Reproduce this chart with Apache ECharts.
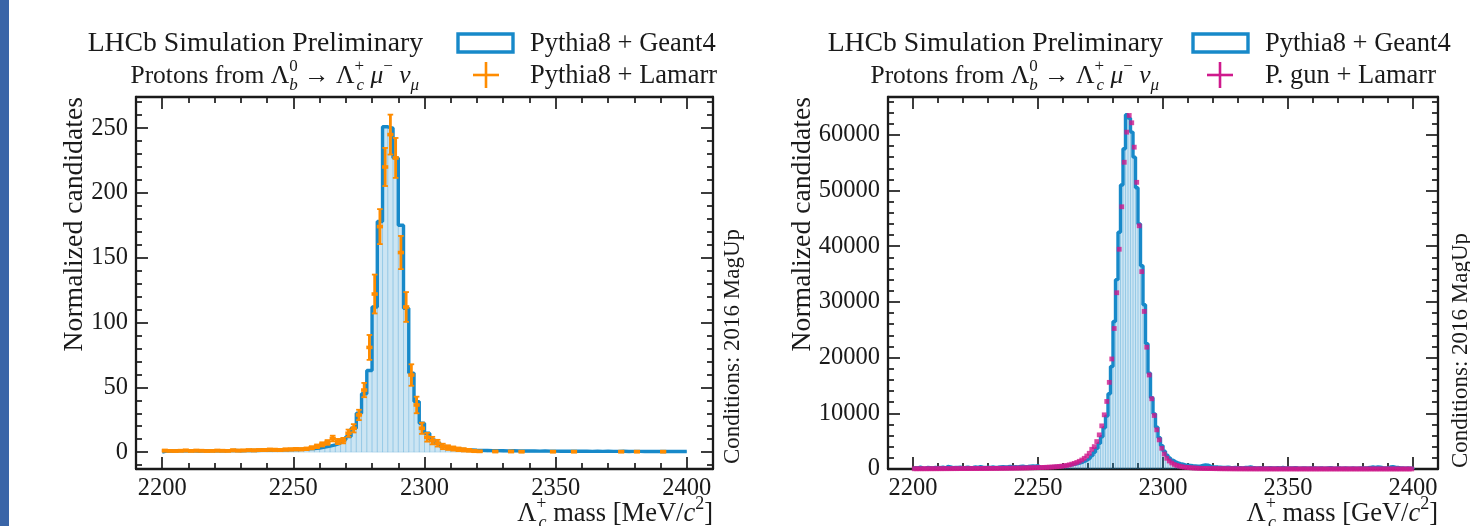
<!DOCTYPE html>
<html>
<head>
<meta charset="utf-8">
<script src="https://cdn.jsdelivr.net/npm/echarts@6/dist/echarts.min.js"></script>
<style>
  html, body { margin: 0; padding: 0; background: #fff; }
  #chart { width: 1470px; height: 526px; }
</style>
</head>
<body>
<div id="chart"></div>
<script>
// ---- data ----
// left panel: 2 MeV bins from 2200 to 2400
const leftBinStart = 2200
const leftBinWidth = 2
const leftGeant4 = [
  1.0, 0.9, 1.1, 1.0, 1.2, 1.0, 0.9, 1.1, 1.0, 1.2,
  1.1, 1.0, 1.2, 1.3, 1.1, 1.2, 1.4, 1.3, 1.5, 1.6,
  1.5, 1.7, 1.9, 1.8, 2.0, 2.1, 2.3, 2.5, 2.8, 3.2,
  3.9, 4.6, 5.6, 6.9, 9.5, 12.0, 18.4, 30.0, 45.0, 63.0,
  112, 178, 251, 250, 227, 175, 111, 61, 39, 22.3,
  14.6, 9.5, 6.9, 4.4, 3.4, 2.7, 2.2, 1.9, 1.7, 1.5,
  1.4, 1.3, 1.2, 1.2, 1.1, 1.0, 1.1, 1.0, 0.9, 1.0,
  0.9, 0.8, 0.9, 0.8, 0.8, 0.7, 0.8, 0.7, 0.7, 0.8,
  0.7, 0.6, 0.7, 0.6, 0.7, 0.6, 0.6, 0.7, 0.5, 0.6,
  0.6, 0.5, 0.6, 0.5, 0.6, 0.5, 0.5, 0.6, 0.5, 0.5
]
const leftLamarr = [
  1.2, 1.0, 0.9, 1.1, 1.3, 1.0, 1.2, 1.1, 0.9, 1.0,
  1.2, 1.1, 1.0, 1.4, 1.2, 1.3, 1.5, 1.4, 1.6, 1.7,
  1.9, 1.8, 1.7, 2.0, 2.1, 2.3, 2.2, 2.6, 3.4, 4.5,
  6.0, 7.5, 10.5, 8.2, 8.9, 14.6, 18.4, 28.7, 47.9, 80.8,
  122, 174, 220, 245, 227, 154, 112, 59.5, 36.4, 18.4,
  11.5, 8.9, 6.9, 4.4, 3.5, 2.8, 2.2, 1.8, 1.4, 0.9,
  0.6, null, null, 0.5, null, null, 0.5, null, 0.4, null,
  null, null, null, null, 0.4, null, null, null, 0.4, null,
  null, null, null, null, null, null, null, 0.4, null, null,
  0.4, null, null, null, null, 0.4, null, null, null, null
]
const leftLamarrErr = [
  0.7, 0.6, 0.6, 0.7, 0.7, 0.6, 0.7, 0.7, 0.6, 0.6,
  0.7, 0.7, 0.6, 0.8, 0.7, 0.7, 0.8, 0.8, 0.8, 0.8,
  0.9, 0.9, 0.8, 0.9, 0.9, 1.0, 0.9, 1.0, 1.2, 1.4,
  1.6, 1.8, 2.2, 2.0, 2.1, 2.8, 3.2, 4.0, 5.5, 9.6,
  15, 13.5, 14.7, 15.4, 15.4, 12.8, 11.5, 8.3, 6.4, 4.3,
  3.4, 2.9, 2.6, 2.1, 1.8, 1.6, 1.4, 1.3, 1.1, 0.9,
  0.6, 0.6, 0.6, 0.6, 0.6, 0.6, 0.6, 0.6, 0.6, 0.6,
  0.6, 0.6, 0.6, 0.6, 0.6, 0.6, 0.6, 0.6, 0.6, 0.6,
  0.6, 0.6, 0.6, 0.6, 0.6, 0.6, 0.6, 0.6, 0.6, 0.6,
  0.6, 0.6, 0.6, 0.6, 0.6, 0.6, 0.6, 0.6, 0.6, 0.6
]

// right panel: 1 MeV bins from 2200 to 2400
const rightBinStart = 2200
const rightBinWidth = 1
const rightGeant4 = [
  250, 180, 320, 210, 150, 280, 240, 190, 300, 220,
  260, 350, 200, 450, 380, 230, 290, 260, 310, 240,
  280, 330, 250, 300, 370, 280, 420, 310, 260, 340,
  300, 360, 290, 330, 380, 420, 350, 400, 460, 380,
  420, 380, 450, 500, 430, 470, 520, 560, 500, 620,
  300, 330, 360, 340, 400, 420, 450, 480, 520, 560,
  600, 650, 720, 800, 880, 980, 1100, 1250, 1450, 1700,
  2000, 2400, 3000, 3700, 4600, 5800, 7400, 9500, 13500, 18400,
  26500, 34000, 42500, 51000, 57500, 63600, 63000, 60500, 56000, 50500,
  44000, 36500, 29500, 22500, 17200, 12800, 9900, 7500, 5600, 4200,
  3200, 2500, 2000, 1600, 1300, 1100, 950, 850, 750, 700,
  650, 600, 560, 520, 500, 650, 750, 700, 520, 430,
  380, 350, 330, 300, 280, 320, 260, 240, 280, 230,
  250, 210, 260, 300, 350, 280, 230, 200, 220, 190,
  210, 180, 240, 200, 170, 220, 190, 260, 210, 180,
  200, 170, 230, 190, 160, 210, 180, 150, 200, 170,
  190, 160, 210, 170, 150, 190, 230, 180, 160, 200,
  170, 150, 190, 160, 140, 180, 160, 150, 190, 170,
  200, 240, 300, 350, 280, 380, 330, 250, 200, 180,
  350, 400, 330, 280, 200, 180, 150, 170, 140, 160
]
const rightPgun = [
  42, 43, 44, 45, 47, 48, 49, 50, 52, 53,
  55, 56, 58, 60, 61, 63, 65, 66, 68, 70,
  72, 74, 76, 79, 82, 84, 87, 90, 93, 96,
  100, 104, 108, 112, 117, 122, 127, 133, 139, 145,
  150, 158, 166, 175, 184, 194, 205, 217, 230, 245,
  260, 275, 290, 310, 330, 355, 385, 420, 460, 510,
  570, 650, 750, 870, 1010, 1180, 1380, 1620, 1920, 2340,
  2820, 3540, 4020, 4930, 6130, 7750, 9730, 12130, 15560, 19760,
  25230, 31650, 39460, 47090, 55080, 60490, 63490, 62170, 57790, 51480,
  43670, 35440, 28290, 21870, 16880, 12610, 9610, 7030, 5230, 3720,
  2700, 1920, 1440, 1080, 820, 640, 510, 410, 340, 285,
  240, 205, 175, 150, 130, 115, 100, 90, 80, 72,
  65, 58, 52, 47, 43, 40, 37, 34, 31, 29,
  27, 25, 23, 22, 21, 20, 19, 18, 17, 17,
  16, 15, 15, 14, 14, 14, 13, 13, 13, 12,
  12, 12, 12, 11, 11, 11, 11, 11, 10, 10,
  10, 10, 10, 10, 9, 9, 9, 9, 9, 9,
  9, 9, 8, 8, 8, 8, 8, 8, 8, 8,
  8, 8, 8, 8, 8, 8, 8, 8, 8, 8,
  8, 8, 8, 8, 8, 8, 8, 8, 8, 8
]

// axes ticks and limits
const massMin = 2190
const massMax = 2410
const massMajor = [2200, 2250, 2300, 2350, 2400]
const massMinor = [2210, 2220, 2230, 2240, 2260, 2270, 2280, 2290, 2310, 2320, 2330, 2340, 2360, 2370, 2380, 2390]
const leftYMin = -13
const leftYMax = 274
const leftYMajor = [0, 50, 100, 150, 200, 250]
const leftYMinor = [-10, 10, 20, 30, 40, 60, 70, 80, 90, 110, 120, 130, 140, 160, 170, 180, 190, 210, 220, 230, 240, 260, 270]
const rightYMin = 0
const rightYMax = 66800
const rightYMajor = [0, 10000, 20000, 30000, 40000, 50000, 60000]
const rightYMinor = [2000, 4000, 6000, 8000, 12000, 14000, 16000, 18000, 22000, 24000, 26000, 28000,
  32000, 34000, 36000, 38000, 42000, 44000, 46000, 48000, 52000, 54000, 56000, 58000, 62000, 64000, 66000]

// ---- styling ----
const serif = '"Liberation Serif", "DejaVu Serif", serif'
const ink = '#1a1a1a'
const histBlue = '#1789c9'
const histFill = 'rgba(23,137,201,0.22)'
const histEdge = 'rgba(23,137,201,0.16)'
const orange = '#ff8c00'
const magenta = '#cf198c'

/* 直方图用的数据变换 */
function edgesOf(start, width, n) {
  const e = []
  for (let i = 0; i <= n; i++) e.push(start + i * width)
  return e
}
function fillData(edges, vals) {
  return vals.map((v, i) => [edges[i], edges[i + 1], v])
}
function stepData(edges, vals) {
  const n = vals.length
  const d = [[edges[0], 0]]
  vals.forEach((v, i) => d.push([edges[i], v]))
  d.push([edges[n], vals[n - 1]])
  d.push([edges[n], 0])
  return d
}
function pointData(edges, vals, errs) {
  const d = []
  vals.forEach((v, i) => {
    if (v === null) return
    d.push([(edges[i] + edges[i + 1]) / 2, v, errs ? errs[i] : 0, edges[i], edges[i + 1]])
  })
  return d
}

const leftEdges = edgesOf(leftBinStart, leftBinWidth, leftGeant4.length)
const rightEdges = edgesOf(rightBinStart, rightBinWidth, rightGeant4.length)

function renderFill(params, api) {
  const p0 = api.coord([api.value(0), 0])
  const p1 = api.coord([api.value(1), api.value(2)])
  return {
    type: 'rect',
    shape: { x: p0[0], y: p1[1], width: p1[0] - p0[0], height: p0[1] - p1[1] },
    style: { fill: histFill, stroke: histEdge, lineWidth: 1 }
  }
}
function renderErrorBar(params, api) {
  const c = api.value(0), v = api.value(1), e = api.value(2)
  const pL = api.coord([api.value(3), v])
  const pR = api.coord([api.value(4), v])
  const pT = api.coord([c, v + e])
  const pB = api.coord([c, v - e])
  const thin = { stroke: orange, lineWidth: 1.8 }
  return {
    type: 'group',
    children: [
      { type: 'line', shape: { x1: pL[0] - 0.5, y1: pL[1], x2: pR[0] + 0.5, y2: pR[1] }, style: { stroke: orange, lineWidth: 3.6 } },
      { type: 'line', shape: { x1: pT[0], y1: pT[1], x2: pB[0], y2: pB[1] }, style: { stroke: orange, lineWidth: 2.8 } },
      { type: 'line', shape: { x1: pT[0] - 2.8, y1: pT[1], x2: pT[0] + 2.8, y2: pT[1] }, style: thin },
      { type: 'line', shape: { x1: pB[0] - 2.8, y1: pB[1], x2: pB[0] + 2.8, y2: pB[1] }, style: thin }
    ]
  }
}

/* 四周的坐标轴：刻度朝内，上下左右都有 */
function frameAxes(grid, min, max, major, minor, dim, showLabel) {
  const posA = dim === 'x' ? 'bottom' : 'left'
  const posB = dim === 'x' ? 'top' : 'right'
  const base = {
    gridIndex: grid, type: 'value', min: min, max: max,
    splitLine: { show: false }, axisPointer: { show: false }
  }
  const tick = (vals, len) => ({
    inside: true, length: len, customValues: vals,
    lineStyle: { color: ink, width: 1.7 }
  })
  return [
    Object.assign({}, base, {
      position: posA,
      axisLine: { onZero: false, lineStyle: { color: ink, width: 2.3 } },
      axisTick: tick(major, 12),
      axisLabel: showLabel ? {
        customValues: major, fontFamily: serif, fontSize: 24.5, color: ink,
        margin: dim === 'x' ? 7 : 8,
        formatter: v => String(v)
      } : { show: false }
    }),
    Object.assign({}, base, {
      position: posA,
      axisLine: { show: false, onZero: false },
      axisTick: tick(minor, 6),
      axisLabel: { show: false }
    }),
    Object.assign({}, base, {
      position: posB,
      axisLine: { onZero: false, lineStyle: { color: ink, width: 2.3 } },
      axisTick: tick(major, 12),
      axisLabel: { show: false }
    }),
    Object.assign({}, base, {
      position: posB,
      axisLine: { show: false, onZero: false },
      axisTick: tick(minor, 6),
      axisLabel: { show: false }
    })
  ]
}

/* 文字（含上下标）；右对齐时 sbz 宽度为 0，向左叠在前一个上标下面 */
function label(x, y, text, size, align, rotation) {
  const small = Math.round(size * 0.68)
  const sub = { fontFamily: serif, fontSize: small, lineHeight: small, verticalAlign: 'bottom', fill: ink }
  const sup = { fontFamily: serif, fontSize: small, lineHeight: small, verticalAlign: 'top', fill: ink }
  return {
    type: 'text', x: x, y: y, rotation: rotation || 0, silent: true,
    style: {
      text: text, fontFamily: serif, fontSize: size, fill: ink,
      align: align, verticalAlign: 'middle', lineHeight: size + 10,
      rich: {
        it: { fontFamily: serif, fontSize: size, fontStyle: 'italic', fill: ink },
        sbi: Object.assign({}, sub, { fontStyle: 'italic' }),
        sbz: Object.assign({}, sub, { fontStyle: 'italic', width: 0 }),
        sp: sup
      }
    }
  }
}
function cross(cx, cy, color) {
  return {
    type: 'group', silent: true,
    children: [
      { type: 'line', shape: { x1: cx - 13, y1: cy, x2: cx + 13, y2: cy }, style: { stroke: color, lineWidth: 2.6 } },
      { type: 'line', shape: { x1: cx, y1: cy - 13, x2: cx, y2: cy + 13 }, style: { stroke: color, lineWidth: 2.6 } }
    ]
  }
}

const decay = 'Protons from Λ{sp|0}{sbz|b} → Λ{sp|+}{sbz|c} {it|μ}{sp|−} {it|ν}{sbi|μ}'

const chart = echarts.init(document.getElementById('chart'))
chart.setOption({
  animation: false,
  backgroundColor: '#fff',
  grid: [
    { left: 136, top: 97, width: 577, height: 372 },
    { left: 888, top: 97, width: 550, height: 372 }
  ],
  xAxis: [].concat(
    frameAxes(0, massMin, massMax, massMajor, massMinor, 'x', true),
    frameAxes(1, massMin, massMax, massMajor, massMinor, 'x', true)
  ),
  yAxis: [].concat(
    frameAxes(0, leftYMin, leftYMax, leftYMajor, leftYMinor, 'y', true),
    frameAxes(1, rightYMin, rightYMax, rightYMajor, rightYMinor, 'y', true)
  ),
  series: [
    {
      name: 'Pythia8 + Geant4 fill', type: 'custom', xAxisIndex: 0, yAxisIndex: 0,
      renderItem: renderFill, encode: { x: [0, 1], y: 2 }, clip: true,
      data: fillData(leftEdges, leftGeant4), z: 1
    },
    {
      name: 'Pythia8 + Geant4', type: 'line', xAxisIndex: 0, yAxisIndex: 0,
      step: 'end', symbol: 'none', clip: true,
      lineStyle: { color: histBlue, width: 3.4 },
      data: stepData(leftEdges, leftGeant4), z: 2
    },
    {
      name: 'Pythia8 + Lamarr', type: 'custom', xAxisIndex: 0, yAxisIndex: 0,
      renderItem: renderErrorBar, encode: { x: 0, y: 1 }, clip: true,
      data: pointData(leftEdges, leftLamarr, leftLamarrErr), z: 3
    },
    {
      name: 'Pythia8 + Geant4 fill (r)', type: 'custom', xAxisIndex: 4, yAxisIndex: 4,
      renderItem: renderFill, encode: { x: [0, 1], y: 2 }, clip: true,
      data: fillData(rightEdges, rightGeant4), z: 1
    },
    {
      name: 'Pythia8 + Geant4 (r)', type: 'line', xAxisIndex: 4, yAxisIndex: 4,
      step: 'end', symbol: 'none', clip: true,
      lineStyle: { color: histBlue, width: 3.4 },
      data: stepData(rightEdges, rightGeant4), z: 2
    },
    {
      name: 'P. gun + Lamarr', type: 'scatter', xAxisIndex: 4, yAxisIndex: 4,
      symbol: 'rect', symbolSize: 4.8, clip: true,
      itemStyle: { color: magenta },
      data: pointData(rightEdges, rightPgun).map(d => [d[0], d[1]]), z: 3
    }
  ],
  graphic: [
    { type: 'rect', shape: { x: 0, y: 0, width: 9, height: 526 }, style: { fill: '#3a65a8' }, silent: true },

    // left panel header and legend
    label(423, 44, 'LHCb Simulation Preliminary', 27.7, 'right'),
    label(419, 76, decay, 25.5, 'right'),
    { type: 'rect', shape: { x: 458, y: 34, width: 55, height: 18 }, style: { fill: 'none', stroke: histBlue, lineWidth: 3.4 }, silent: true },
    label(530, 44, 'Pythia8 + Geant4', 26.5, 'left'),
    cross(486, 75, orange),
    label(530, 76, 'Pythia8 + Lamarr', 26.5, 'left'),

    // right panel header and legend
    label(1163, 44, 'LHCb Simulation Preliminary', 27.7, 'right'),
    label(1159, 76, decay, 25.5, 'right'),
    { type: 'rect', shape: { x: 1193, y: 34, width: 55, height: 18 }, style: { fill: 'none', stroke: histBlue, lineWidth: 3.4 }, silent: true },
    label(1265, 44, 'Pythia8 + Geant4', 26.5, 'left'),
    cross(1220, 75, magenta),
    label(1265, 76, 'P. gun + Lamarr', 26.5, 'left'),

    // axis titles
    label(75, 97, 'Normalized candidates', 27.7, 'right', Math.PI / 2),
    label(803, 97, 'Normalized candidates', 27.7, 'right', Math.PI / 2),
    label(713, 514, 'Λ{sp|+}{sbz|c} mass [MeV/{it|c}{sp|2}]', 26.5, 'right'),
    label(1438, 514, 'Λ{sp|+}{sbz|c} mass [GeV/{it|c}{sp|2}]', 26.5, 'right'),

    // conditions
    label(733, 464, 'Conditions: 2016 MagUp', 23, 'left', Math.PI / 2),
    label(1461, 468, 'Conditions: 2016 MagUp', 23, 'left', Math.PI / 2)
  ]
})
</script>
</body>
</html>
